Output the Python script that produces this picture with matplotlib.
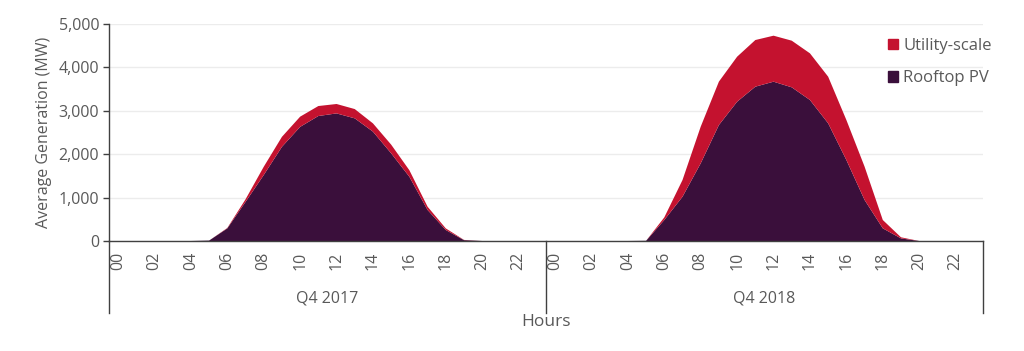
import numpy as np
import matplotlib
matplotlib.use('Agg')
from matplotlib import pyplot as plt
from matplotlib.patches import Patch
from matplotlib.ticker import FuncFormatter

plt.rcParams['font.family'] = ['Open Sans', 'DejaVu Sans']

hours = [f'{h:02d}' for h in range(24)]
quarters = ['Q4 2017', 'Q4 2018']

rooftop_2017 = [0, 0, 0, 0, 0, 10, 290, 900, 1520, 2170, 2630, 2880,
                2940, 2826, 2520, 2020, 1480, 715, 253, 20, 0, 0, 0, 0]
utility_2017 = [0, 0, 0, 0, 0, 0, 10, 60, 190, 230, 235, 230,
                217, 214, 190, 200, 150, 75, 37, 5, 0, 0, 0, 0]
rooftop_2018 = [0, 0, 0, 0, 0, 5, 484, 1020, 1790, 2673, 3210, 3556,
                3671, 3541, 3249, 2711, 1866, 945, 292, 60, 0, 0, 0, 0]
utility_2018 = [0, 0, 0, 0, 0, 0, 60, 385, 845, 1000, 1037, 1075,
                1060, 1075, 1075, 1075, 922, 768, 192, 25, 0, 0, 0, 0]

rooftop = np.array(rooftop_2017 + rooftop_2018)
utility = np.array(utility_2017 + utility_2018)
x = np.arange(len(rooftop))

c_roof = '#3a0f3b'
c_util = '#c4122f'
c_text = '#595959'
c_axis = '#404040'

fig = plt.figure(figsize=(10.24, 3.51), dpi=100)
ax = fig.add_axes([0.1064, 0.3134, 0.8535, 0.6182])

ax.stackplot(x, rooftop, utility, colors=[c_roof, c_util], linewidth=0)

ax.set_xlim(-0.5, len(x) - 0.5)
ax.set_ylim(0, 5000)
ax.set_yticks(range(0, 5001, 1000))
ax.yaxis.set_major_formatter(FuncFormatter(lambda v, p: f'{int(v):,}'))
ax.grid(axis='y', color='#ececec', lw=1)
ax.set_axisbelow(True)

ticks = [i for i in x if i % 2 == 0]
ax.set_xticks(ticks)
ax.set_xticklabels([hours[i % 24] for i in ticks], rotation=90)
ax.tick_params(axis='x', length=0, pad=8, labelsize=11.5, labelcolor=c_text)
ax.tick_params(axis='y', length=4, width=1, color=c_axis, labelsize=11.5,
               labelcolor=c_text, pad=3)

for s in ['top', 'right']:
    ax.spines[s].set_visible(False)
for s in ['left', 'bottom']:
    ax.spines[s].set_color(c_axis)
    ax.spines[s].set_linewidth(1)

# group separators under the axis
tr = ax.get_xaxis_transform()
for b in [-0.5, 23.5, 47.5]:
    ax.plot([b, b], [0, -0.33], color=c_axis, lw=1, transform=tr, clip_on=False)
for i, q in enumerate(quarters):
    ax.text(i * 24 + 11.5, -0.265, q, transform=tr, ha='center', va='center',
            fontsize=11.5, color=c_text)
ax.text(23.5, -0.375, 'Hours', transform=tr, ha='center', va='center',
        fontsize=12.5, color=c_text)

ax.set_ylabel('Average Generation (MW)', fontsize=11.5, color=c_text, labelpad=5)

handles = [Patch(color=c_util, label='Utility-scale'),
           Patch(color=c_roof, label='Rooftop PV')]
ax.legend(handles=handles, loc='upper left', bbox_to_anchor=(0.853, 0.935),
          bbox_transform=fig.transFigure, frameon=False, fontsize=12,
          handlelength=0.6, handleheight=0.6, handletextpad=0.3,
          labelspacing=1.0, labelcolor=c_text)

fig.savefig('out.png', dpi=100)
